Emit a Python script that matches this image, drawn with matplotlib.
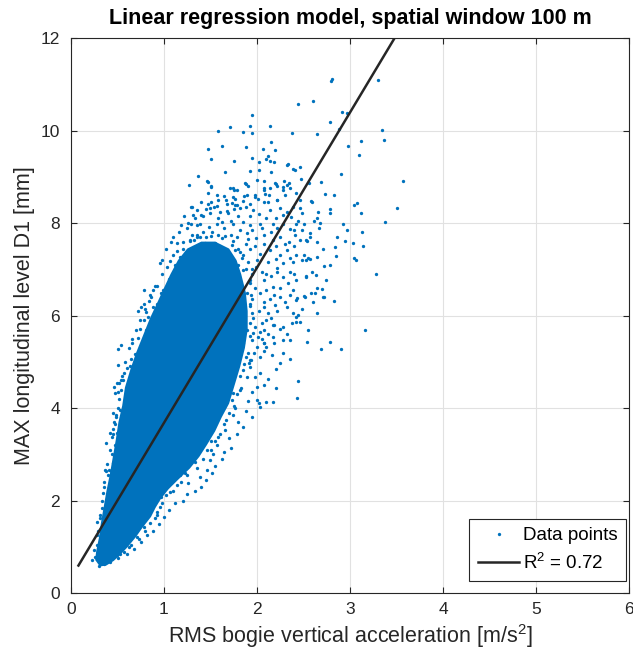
import matplotlib
matplotlib.use('Agg')
import matplotlib.pyplot as plt
import numpy as np

plt.rcParams['font.family'] = ['Liberation Sans', 'DejaVu Sans']
plt.rcParams['mathtext.fontset'] = 'custom'
plt.rcParams['mathtext.rm'] = 'Liberation Sans'
plt.rcParams['mathtext.default'] = 'regular'

# dense core of the cloud, outline (x, y)
core = [(0.31, 0.58), (0.38, 0.60), (0.46, 0.70), (0.53, 0.83), (0.61, 1.00), (0.70, 1.22),
        (0.77, 1.42), (0.86, 1.65), (0.91, 1.85), (0.97, 2.05), (1.05, 2.25), (1.15, 2.45),
        (1.28, 2.70), (1.38, 2.95), (1.46, 3.20), (1.55, 3.50), (1.62, 3.80), (1.70, 4.10),
        (1.76, 4.50), (1.82, 4.90), (1.87, 5.30), (1.90, 5.70), (1.90, 6.10), (1.88, 6.50),
        (1.83, 6.90), (1.78, 7.20), (1.70, 7.45), (1.55, 7.60), (1.40, 7.60), (1.25, 7.45),
        (1.15, 7.20), (1.07, 6.90), (1.00, 6.60), (0.92, 6.25), (0.85, 5.95), (0.78, 5.60),
        (0.70, 5.20), (0.64, 4.85), (0.58, 4.45), (0.55, 4.05), (0.51, 3.70), (0.48, 3.30),
        (0.45, 2.95), (0.42, 2.60), (0.38, 2.20), (0.35, 1.85), (0.32, 1.50), (0.30, 1.20),
        (0.27, 0.90), (0.26, 0.72)]

# sparse points in the upper part
upper_pts = [(2.81, 11.11), (2.80, 11.06), (3.30, 11.10), (2.44, 10.58), (2.60, 10.63), (1.95, 10.34),
             (2.91, 10.40), (2.97, 10.38), (2.79, 10.18), (2.88, 10.03), (3.34, 10.02), (3.37, 9.80),
             (3.12, 9.78), (2.98, 9.67), (3.10, 9.48), (2.90, 9.06), (3.57, 8.90), (2.69, 8.88),
             (2.56, 8.86), (2.47, 8.96), (2.46, 9.21), (2.41, 9.14), (2.39, 9.16), (2.32, 9.26),
             (2.38, 9.95), (2.65, 9.92), (2.14, 10.09), (1.92, 10.09), (1.71, 10.07), (1.58, 9.99),
             (1.85, 9.96), (1.95, 9.94), (2.15, 9.76), (2.06, 9.61), (2.19, 9.59), (2.12, 9.45),
             (2.10, 9.38), (2.14, 9.35), (2.18, 9.32), (2.02, 9.33), (1.95, 9.40), (1.88, 9.64),
             (1.62, 9.66), (1.47, 9.61), (1.50, 9.38), (1.75, 9.35), (1.93, 9.13), (2.02, 9.15),
             (2.15, 9.10), (1.66, 9.11), (1.37, 9.02), (1.47, 8.89), (2.00, 8.94), (2.07, 8.92),
             (1.88, 8.85), (1.90, 8.81), (2.20, 8.85), (2.22, 8.81), (2.29, 8.90), (2.32, 8.83),
             (1.27, 8.83), (1.51, 8.78), (1.71, 8.75), (1.75, 8.72), (1.79, 8.72), (2.14, 8.76),
             (2.08, 8.72), (2.28, 8.72), (2.35, 8.75), (2.33, 9.27)]

# right-hand side of the cloud
right_pts = [(3.51, 8.33), (3.38, 8.03), (3.28, 6.91), (3.16, 5.70), (3.04, 8.39), (3.08, 8.44),
             (3.12, 8.21), (3.13, 7.80), (3.14, 7.51), (3.03, 7.57), (3.04, 7.25), (3.06, 7.21),
             (2.93, 7.98), (2.97, 7.85), (2.95, 7.62), (2.86, 7.70), (2.84, 7.49), (2.85, 7.29),
             (2.78, 7.10), (2.72, 7.07), (2.78, 8.31), (2.78, 8.22), (2.83, 8.60), (2.73, 8.62),
             (2.66, 8.24), (2.65, 8.10), (2.61, 8.04), (2.68, 8.00), (2.67, 7.90), (2.58, 8.47),
             (2.64, 7.59), (2.71, 7.45), (2.65, 7.27), (2.74, 6.77), (2.70, 6.57), (2.65, 6.59),
             (2.72, 6.41), (2.83, 6.31), (2.65, 6.05), (2.78, 5.42), (2.54, 5.42), (2.90, 5.29),
             (2.69, 5.27), (2.59, 6.95), (2.63, 6.87), (2.57, 7.22), (2.51, 7.30), (2.53, 6.85),
             (2.58, 6.50), (2.52, 6.41), (2.54, 7.61), (2.57, 7.69), (2.55, 7.24),
             (1.74, 8.75), (1.87, 8.86), (1.89, 8.60), (1.98, 8.60), (2.07, 8.75), (2.13, 8.60),
             (2.19, 8.86), (2.28, 8.78), (2.30, 8.60), (2.34, 8.86), (2.42, 8.64), (2.46, 8.50),
             (1.76, 8.39), (1.82, 8.32), (1.92, 8.42), (1.96, 8.28), (2.07, 8.46), (2.14, 8.28),
             (2.21, 8.50), (2.25, 8.32), (2.28, 8.17), (2.39, 8.35), (2.37, 8.14), (2.46, 8.32),
             (2.48, 8.21), (2.51, 7.99), (2.59, 8.46), (1.74, 7.99), (1.85, 8.03), (1.92, 7.96),
             (2.03, 7.99), (2.10, 8.10), (2.17, 7.99), (2.28, 7.99), (2.35, 7.88), (2.42, 7.99),
             (2.48, 7.85), (1.78, 7.70), (1.89, 7.78), (1.99, 7.67), (2.08, 7.74), (2.17, 7.63),
             (2.25, 7.70), (2.34, 7.59), (2.41, 7.74), (2.46, 7.63), (2.53, 7.63), (2.57, 7.78),
             (1.82, 7.38), (1.92, 7.45), (2.03, 7.34), (2.14, 7.42), (2.25, 7.31), (2.32, 7.42),
             (2.42, 7.31), (2.48, 7.20), (2.28, 7.13), (2.39, 7.16), (2.53, 7.20), (1.85, 6.98),
             (1.99, 7.06), (2.10, 6.91), (2.21, 7.02), (2.28, 6.84), (2.35, 6.95), (2.42, 6.77),
             (2.53, 6.84), (2.07, 6.77), (2.17, 6.62), (1.92, 6.77), (1.78, 6.55), (1.89, 6.48),
             (2.03, 6.48), (2.14, 6.37), (2.25, 6.41), (2.35, 6.44), (2.42, 6.34), (1.92, 6.26),
             (2.07, 6.19), (2.19, 6.23), (2.32, 6.19), (2.39, 6.05), (1.82, 5.90), (1.96, 5.94),
             (2.10, 5.90), (2.17, 5.80), (2.28, 5.76), (2.42, 5.98), (2.46, 5.87), (1.89, 5.69),
             (2.03, 5.65), (2.17, 5.54), (2.28, 5.47), (2.07, 5.40), (1.85, 5.40),
             (2.71, 6.41), (2.62, 6.48), (2.51, 6.42), (2.43, 6.39), (2.39, 6.55), (2.44, 6.01),
             (2.42, 5.87), (2.35, 5.47), (2.25, 4.97), (2.35, 5.07), (2.44, 4.59), (2.43, 4.23),
             (2.20, 4.43), (2.10, 4.14), (2.02, 4.12), (2.03, 4.03), (2.12, 4.64), (1.98, 4.68),
             (2.18, 5.80), (2.07, 5.69), (2.25, 5.72), (2.10, 5.33), (2.18, 5.40), (1.94, 5.05),
             (1.92, 4.89), (1.89, 4.68), (2.03, 5.11), (2.07, 5.24), (1.83, 4.43), (1.74, 4.32),
             (1.73, 4.17), (2.16, 5.15), (2.03, 4.75), (2.00, 4.17), (2.17, 4.14), (2.08, 5.40),
             (1.96, 5.62), (2.01, 5.54), (1.88, 5.11), (1.91, 4.97), (1.85, 4.82), (1.82, 4.39),
             (1.76, 4.00), (1.74, 3.85), (1.67, 3.74), (1.66, 3.53), (1.58, 3.38), (1.57, 3.20),
             (1.53, 3.02), (1.49, 2.88), (1.46, 2.66), (1.39, 2.52), (1.51, 3.29), (1.46, 3.10),
             (1.26, 2.38), (1.14, 2.34), (1.06, 2.19), (0.97, 2.09), (0.96, 1.87), (0.92, 1.76),
             (0.90, 1.62), (0.78, 1.44), (0.71, 1.22), (0.62, 0.99), (0.53, 0.85), (0.49, 0.83),
             (1.33, 2.84), (1.28, 2.81), (1.17, 2.56), (1.23, 2.59), (0.35, 0.63), (0.30, 0.59)]

# denser band just outside the core
mid_pts = [(1.93, 5.05), (1.97, 5.20), (2.00, 5.32), (1.95, 5.48), (2.05, 5.50), (2.12, 5.60),
           (1.98, 5.75), (2.05, 5.85), (2.15, 5.95), (1.95, 6.05), (2.02, 6.10), (2.12, 6.05),
           (2.22, 6.10), (1.95, 6.35), (2.08, 6.30), (2.18, 6.45), (2.30, 6.30), (1.98, 6.60),
           (2.10, 6.55), (2.25, 6.60), (2.33, 6.70), (1.95, 6.90), (2.05, 6.95), (2.15, 6.85),
           (2.22, 6.95), (2.40, 6.90), (1.90, 7.15), (2.00, 7.20), (2.12, 7.15), (2.20, 7.22),
           (2.35, 7.25), (1.88, 7.55), (1.98, 7.50), (2.08, 7.55), (2.20, 7.50), (2.30, 7.55),
           (2.40, 7.50), (1.95, 7.85), (2.05, 7.90), (2.15, 7.80), (2.22, 7.90), (2.40, 7.85),
           (1.92, 8.15), (2.02, 8.20), (2.20, 8.10), (2.32, 8.25), (2.44, 8.05), (2.00, 4.45),
           (2.08, 4.50), (1.95, 4.35), (1.90, 4.15), (1.88, 3.95), (1.95, 3.80), (1.80, 3.70),
           (1.85, 3.60), (1.78, 3.45), (1.70, 3.35), (1.72, 3.15), (1.65, 3.05), (1.62, 2.90),
           (1.55, 2.75), (1.52, 2.60), (1.45, 2.45), (1.40, 2.30), (1.33, 2.20), (1.25, 2.15),
           (1.20, 2.00), (1.12, 1.95), (1.05, 1.80), (1.00, 1.65), (0.95, 1.50), (0.88, 1.35),
           (0.82, 1.25), (0.75, 1.10), (0.68, 0.95), (0.60, 0.85), (2.20, 4.85), (2.28, 5.20),
           (2.32, 5.60), (2.38, 5.85), (2.55, 5.70), (2.48, 6.15), (2.60, 6.30),
           (1.20, 7.60), (1.30, 7.75), (1.45, 7.70), (1.52, 7.80), (1.62, 7.68), (1.72, 7.75),
           (1.82, 7.85), (1.25, 7.90), (1.35, 7.95), (1.48, 7.92), (1.58, 8.10), (1.72, 8.05),
           (1.80, 8.15), (1.35, 8.28), (1.45, 8.30), (1.60, 8.25), (1.75, 8.30), (1.88, 8.35),
           (1.22, 8.15), (1.40, 8.45), (1.58, 8.50), (1.85, 8.48), (1.10, 7.70), (1.18, 7.95),
           (1.65, 7.90), (1.90, 7.65), (1.85, 7.30), (1.80, 7.10), (1.95, 7.00), (1.92, 6.70),
           (0.28, 1.05), (0.29, 1.35), (0.31, 1.70), (0.33, 2.00), (0.36, 2.40), (0.39, 2.80),
           (0.42, 3.10), (0.45, 3.45), (0.47, 3.65), (0.50, 4.00), (0.52, 4.20), (0.55, 4.70),
           (0.58, 5.00), (0.62, 5.30), (0.66, 5.50), (0.70, 5.70), (0.74, 5.90), (0.80, 6.15),
           (0.86, 6.40), (0.93, 6.65), (0.98, 6.90), (1.03, 7.05), (1.10, 7.30), (0.35, 1.20),
           (0.31, 0.95), (0.40, 2.55), (0.48, 3.85), (0.57, 4.75), (0.66, 5.40), (0.83, 5.98)]

# dots hugging the right and top edge of the core
edge_pts = [(1.93, 6.20), (1.94, 6.45), (1.91, 6.75), (1.88, 7.00), (1.84, 7.25), (1.80, 7.45),
            (1.74, 7.62), (1.66, 7.72), (1.58, 7.75), (1.50, 7.72), (1.42, 7.80), (1.35, 7.70),
            (1.28, 7.62), (1.93, 5.85), (1.92, 5.55), (1.90, 5.20), (1.86, 4.95), (1.82, 4.70),
            (1.78, 4.30), (1.75, 4.05), (1.70, 3.90), (1.65, 3.65), (1.60, 3.45), (1.55, 3.30),
            (1.50, 3.10), (1.42, 2.90), (1.35, 2.70), (1.25, 2.55), (1.18, 2.40), (1.10, 2.22),
            (1.02, 2.12), (0.98, 1.95), (0.93, 1.70), (0.85, 1.52), (0.80, 1.35), (0.73, 1.18),
            (0.65, 1.05), (0.57, 0.90), (0.50, 0.76), (0.42, 0.68)]

# left-hand side of the cloud
left_pts = [(1.46, 8.90), (1.50, 8.80), (1.47, 8.64), (1.57, 8.60), (1.50, 8.45), (1.47, 8.41),
            (1.54, 8.35), (1.29, 8.34), (1.68, 8.42), (1.73, 8.44), (1.78, 8.39), (1.31, 8.18),
            (1.33, 8.12), (1.40, 8.18), (1.42, 8.15), (1.49, 8.21), (1.26, 8.01), (1.29, 7.99),
            (1.39, 7.97), (1.57, 7.99), (1.62, 8.03), (1.68, 8.26), (1.69, 8.21), (1.16, 7.81),
            (1.36, 7.74), (1.39, 7.70), (1.08, 7.59), (1.14, 7.58), (1.28, 7.63), (1.32, 7.63),
            (1.02, 7.45), (1.14, 7.40), (1.20, 7.45), (1.24, 7.37), (1.29, 7.41), (1.44, 7.56),
            (1.49, 7.49), (1.55, 7.56), (1.60, 7.50), (1.65, 7.45), (1.73, 7.52), (1.76, 7.41),
            (0.98, 7.20), (0.96, 7.14), (1.06, 7.18), (1.12, 7.09), (1.17, 7.26), (1.17, 6.98),
            (1.23, 6.91), (1.28, 7.04), (1.33, 6.95), (1.05, 6.79), (1.08, 6.84), (1.14, 6.78),
            (1.19, 6.73), (0.78, 6.55), (0.88, 6.55), (0.90, 6.64), (0.85, 6.44), (0.99, 6.55),
            (0.97, 6.48), (1.03, 6.62), (1.06, 6.59), (0.84, 6.32), (0.93, 6.26), (0.99, 6.33),
            (1.06, 6.37), (0.72, 6.10), (0.81, 6.08), (0.88, 6.19), (0.78, 5.90), (0.85, 5.83),
            (0.74, 5.72), (0.81, 5.69), (0.72, 5.51), (0.87, 5.54), (1.49, 8.33), (1.57, 8.37),
            (1.74, 8.57), (1.76, 8.51), (1.64, 8.58), (1.67, 8.50), (1.86, 8.59), (1.98, 8.57),
            (2.01, 8.53), (2.09, 8.62), (2.12, 8.46), (2.22, 8.50), (1.30, 8.35),
            (0.54, 5.36), (0.51, 4.93), (0.63, 4.91), (0.69, 5.17), (0.74, 5.29), (0.49, 4.54),
            (0.54, 4.61), (0.50, 4.35), (0.54, 4.39), (0.45, 3.89), (0.48, 3.80), (0.53, 3.96),
            (0.45, 3.56), (0.44, 3.38), (0.49, 3.46), (0.44, 3.02), (0.45, 2.81), (0.38, 2.65),
            (0.41, 2.66), (0.47, 3.20), (0.47, 2.95), (0.51, 5.29), (0.46, 4.46), (0.47, 4.32),
            (0.52, 4.55), (0.79, 6.26), (0.75, 6.19), (0.64, 5.07), (0.60, 4.86), (0.56, 4.61),
            (0.46, 3.71), (0.42, 3.46), (0.38, 3.24), (0.37, 2.66), (0.43, 2.65), (0.35, 2.30),
            (0.34, 2.16), (0.33, 1.84), (0.31, 1.62), (0.28, 1.55), (0.28, 1.26), (0.25, 0.94),
            (0.26, 0.79), (0.23, 0.72)]

# fitted line end points
fit_x = [0.08, 3.48]
fit_y = [0.60, 12.0]
r2 = 0.72

blue = '#0072BD'
dark = '#262626'

fig = plt.figure(figsize=(6.33, 6.6), dpi=100)
ax = fig.add_axes([71 / 633, 66.7 / 660, 558 / 633, 555.3 / 660])

cx, cy = zip(*core)
ax.fill(cx, cy, color=blue, lw=0, zorder=2)

pts = upper_pts + right_pts + mid_pts + edge_pts + left_pts
px, py = zip(*pts)
ax.plot(px, py, 'o', color=blue, ms=2.4, mew=0, zorder=3, label='Data points')
ax.plot(fit_x, fit_y, '-', color=dark, lw=1.8, zorder=4, label='R$^2$ = %.2f' % r2)

ax.set_xlim(0, 6)
ax.set_ylim(0, 12)
ax.set_xticks(range(0, 7))
ax.set_yticks(range(0, 13, 2))
ax.grid(True, color='#e1e1e1', lw=0.8, zorder=0)
ax.set_axisbelow(True)
ax.tick_params(direction='in', top=True, right=True, length=4, width=0.8,
               colors=dark, labelsize=12.5)
ax.tick_params(axis='y', pad=8)
ax.tick_params(axis='x', pad=6)
for s in ax.spines.values():
    s.set_color(dark)
    s.set_linewidth(0.8)

ax.set_xlabel('RMS bogie vertical acceleration [m/s$^{2}$]', fontsize=15.5, color=dark, labelpad=4)
ax.set_ylabel('MAX longitudinal level D1 [mm]', fontsize=15.5, color=dark, labelpad=4)
ax.set_title('Linear regression model, spatial window 100 m', fontsize=15.5, fontweight='bold', pad=10)

leg = ax.legend(loc='lower right', bbox_to_anchor=(0.9946, 0.022), borderaxespad=0,
                fancybox=False, framealpha=1, edgecolor=dark, fontsize=13.5,
                handlelength=2.2, handletextpad=0.2, borderpad=0.45, labelspacing=0.45,
                markerscale=1.0)
leg.get_frame().set_linewidth(0.8)

plt.savefig('out.png', dpi=100)
